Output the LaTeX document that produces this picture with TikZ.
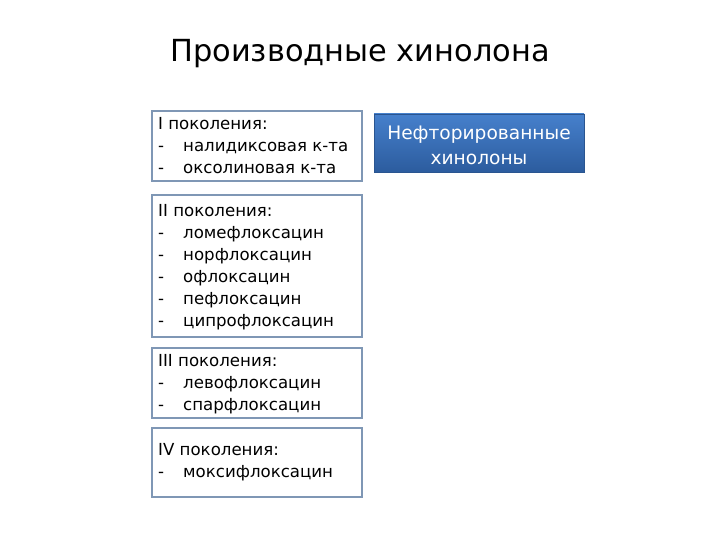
\documentclass[tikz,border=0pt]{standalone}
\usepackage{fontspec}
\setmainfont{DejaVu Sans}
\definecolor{boxline}{HTML}{7F97B5}
\definecolor{bluetop}{HTML}{4680CC}
\definecolor{bluebot}{HTML}{2C5C9E}
\definecolor{blueline}{HTML}{2A5590}
\tikzset{
  genbox/.style={draw=boxline, line width=1.6pt, fill=white},
  gentext/.style={anchor=north west, align=left, inner sep=0pt, font=\fontsize{16.6}{22}\selectfont},
  titletext/.style={font=\fontsize{30.4}{36}\selectfont},
}
\newcommand{\dashitem}[1]{\makebox[25pt][l]{-}#1}
\begin{document}
\begin{tikzpicture}[x=1pt,y=-1pt]
\useasboundingbox (0,0) rectangle (720,540);
\node[titletext] (title) at (360,54) {Производные хинолона};
% boxes
\draw[genbox] (152,111) rectangle (362,181);
\node[gentext] (g1) at (158,117) {I поколения:\\\dashitem{налидиксовая к-та}\\\dashitem{оксолиновая к-та}};
\draw[genbox] (152,195) rectangle (362,337);
\node[gentext] (g2) at (158,204) {II поколения:\\\dashitem{ломефлоксацин}\\\dashitem{норфлоксацин}\\\dashitem{офлоксацин}\\\dashitem{пефлоксацин}\\\dashitem{ципрофлоксацин}};
\draw[genbox] (152,348) rectangle (362,418);
\node[gentext] (g3) at (158,354) {III поколения:\\\dashitem{левофлоксацин}\\\dashitem{спарфлоксацин}};
\draw[genbox] (152,428) rectangle (362,497);
\node[gentext] (g4) at (158,443) {IV поколения:\\\dashitem{моксифлоксацин}};
% blue box
\shade[top color=bluetop, bottom color=bluebot, draw=blueline, line width=0.6pt] (374,114) rectangle (584,172);
\node[text=white, align=center, font=\fontsize{18.6}{25}\selectfont] (nf) at (479,145) {Нефторированные\\хинолоны};
\end{tikzpicture}
\end{document}
